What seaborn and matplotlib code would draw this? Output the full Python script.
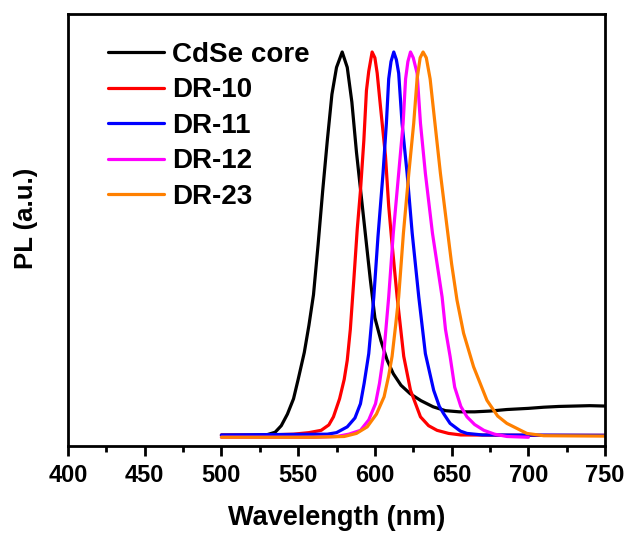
import matplotlib
matplotlib.use("Agg")
import matplotlib.pyplot as plt
from matplotlib.ticker import MultipleLocator, NullLocator
import seaborn as sns
import pandas as pd

series_names = ["CdSe core", "DR-10", "DR-11", "DR-12", "DR-23"]
series_colors = ["#000000", "#FF0000", "#0000FF", "#FF00FF", "#FF8000"]

cdse_wl = [500, 520, 530, 535, 539, 543, 547, 550, 554, 557, 560, 563, 566, 569, 572, 575, 578.7,
           582, 585, 588, 591, 594, 597, 600, 604, 608, 612, 617, 623, 630, 638, 646, 655, 665,
           675, 686, 700, 710, 720, 730, 740, 750]
cdse_pl = [0.005, 0.005, 0.007, 0.013, 0.03, 0.06, 0.10, 0.15, 0.22, 0.29, 0.37, 0.50, 0.64, 0.77,
           0.89, 0.96, 1.0, 0.96, 0.87, 0.74, 0.63, 0.52, 0.41, 0.31, 0.25, 0.20, 0.165, 0.135,
           0.113, 0.095, 0.079, 0.069, 0.066, 0.066, 0.068, 0.072, 0.075, 0.078, 0.080, 0.081,
           0.082, 0.081]

dr10_wl = [500, 530, 547, 557, 565, 570, 573, 577, 580, 582, 584, 586.3, 588.5, 590.6, 592.8,
           594.5, 596, 598.2, 600, 601.5, 603.6, 606.9, 609, 611, 614.5, 618.8, 623.2, 629.7,
           635, 640.5, 648, 656, 700, 750]
dr10_pl = [0.006, 0.006, 0.008, 0.012, 0.018, 0.032, 0.053, 0.10, 0.15, 0.20, 0.28, 0.41, 0.54,
           0.64, 0.77, 0.90, 0.95, 1.0, 0.985, 0.945, 0.86, 0.73, 0.60, 0.51, 0.364, 0.21, 0.122,
           0.053, 0.03, 0.018, 0.01, 0.006, 0.005, 0.005]

dr11_wl = [500, 569, 575, 582, 587, 590.6, 593, 596, 599.3, 602, 605.3, 607.5, 609, 610.5, 612.3,
           614, 615.5, 617.7, 621, 624.3, 628.6, 632.9, 638.3, 642, 645, 649, 655.7, 660, 670, 750]
dr11_pl = [0.006, 0.008, 0.012, 0.027, 0.05, 0.087, 0.14, 0.217, 0.364, 0.52, 0.685, 0.815, 0.93,
           0.975, 1.0, 0.98, 0.945, 0.815, 0.685, 0.53, 0.364, 0.217, 0.122, 0.08, 0.06, 0.036,
           0.016, 0.01, 0.006, 0.005]

dr12_wl = [500, 560, 575, 583, 590.6, 596, 600.4, 603, 605.8, 609, 612, 615.5, 618.4, 620, 621.5,
           623.2, 625, 627.5, 629.7, 632.9, 637.5, 643.8, 646, 649, 652, 656, 660, 665, 671, 678,
           686, 700]
dr12_pl = [0.0, 0.0, 0.002, 0.008, 0.018, 0.045, 0.087, 0.14, 0.217, 0.364, 0.53, 0.685, 0.815,
           0.93, 0.975, 1.0, 0.985, 0.945, 0.815, 0.685, 0.53, 0.364, 0.28, 0.21, 0.13, 0.08,
           0.053, 0.033, 0.018, 0.008, 0.002, 0.0]

dr23_wl = [500, 560, 580, 588, 595, 601, 606, 609, 611.2, 613.5, 615.5, 618.6, 622.1, 625.3, 627.5,
           629.5, 631.4, 633.5, 636, 639, 642.7, 647, 650, 653.5, 657.8, 664.3, 673, 680, 686, 699,
           710, 750]
dr23_pl = [0.0, 0.0, 0.002, 0.01, 0.027, 0.06, 0.105, 0.16, 0.21, 0.29, 0.364, 0.53, 0.685, 0.815,
           0.93, 0.985, 1.0, 0.985, 0.93, 0.82, 0.685, 0.546, 0.45, 0.356, 0.27, 0.183, 0.096,
           0.055, 0.036, 0.01, 0.004, 0.003]

x_ticks = [400, 450, 500, 550, 600, 650, 700, 750]

all_wl = [cdse_wl, dr10_wl, dr11_wl, dr12_wl, dr23_wl]
all_pl = [cdse_pl, dr10_pl, dr11_pl, dr12_pl, dr23_pl]
frames = []
for name, wl, pl in zip(series_names, all_wl, all_pl):
    frames.append(pd.DataFrame({"Wavelength": wl, "PL": pl, "Sample": name}))
df = pd.concat(frames, ignore_index=True)

sns.set_style("ticks")
plt.rcParams["font.family"] = ["Liberation Sans", "DejaVu Sans"]
plt.rcParams["font.weight"] = "bold"
plt.rcParams["text.color"] = "black"
plt.rcParams["axes.labelcolor"] = "black"
plt.rcParams["axes.edgecolor"] = "black"
plt.rcParams["xtick.color"] = "black"
plt.rcParams["ytick.color"] = "black"

fig = plt.figure(figsize=(6.29, 5.33), dpi=100)
ax = fig.add_axes([0.108, 0.163, 0.854, 0.811])

sns.lineplot(data=df, x="Wavelength", y="PL", hue="Sample", hue_order=series_names,
             palette=dict(zip(series_names, series_colors)), estimator=None, sort=False,
             linewidth=2.3, ax=ax)

ax.set_xlim(400, 750)
ax.set_ylim(-0.023, 1.099)
ax.set_xticks(x_ticks)
ax.xaxis.set_minor_locator(MultipleLocator(25))
ax.yaxis.set_major_locator(NullLocator())
ax.tick_params(axis="x", which="major", direction="out", length=7.5, width=2,
               labelsize=17, pad=5.5, colors="black")
ax.tick_params(axis="x", which="minor", direction="out", length=4, width=2, colors="black")
for lbl in ax.get_xticklabels():
    lbl.set_fontweight("bold")
for sp in ax.spines.values():
    sp.set_visible(True)
    sp.set_linewidth(2)
    sp.set_color("black")

ax.set_xlabel("Wavelength (nm)", fontsize=19.5, fontweight="bold", color="black")
ax.xaxis.set_label_coords(0.5, -0.137)
ax.set_ylabel("PL (a.u.)", fontsize=18.5, fontweight="bold", color="black")
ax.yaxis.set_label_coords(-0.055, 0.528)

leg = ax.legend(title=None, loc="upper left", bbox_to_anchor=(0.074, 0.935), frameon=False,
                handlelength=2.04, handletextpad=0.29, labelspacing=0.34,
                borderaxespad=0, borderpad=0, prop={"weight": "bold", "size": 20})
for t in leg.get_texts():
    t.set_color("black")

fig.savefig("out.png", dpi=100)
